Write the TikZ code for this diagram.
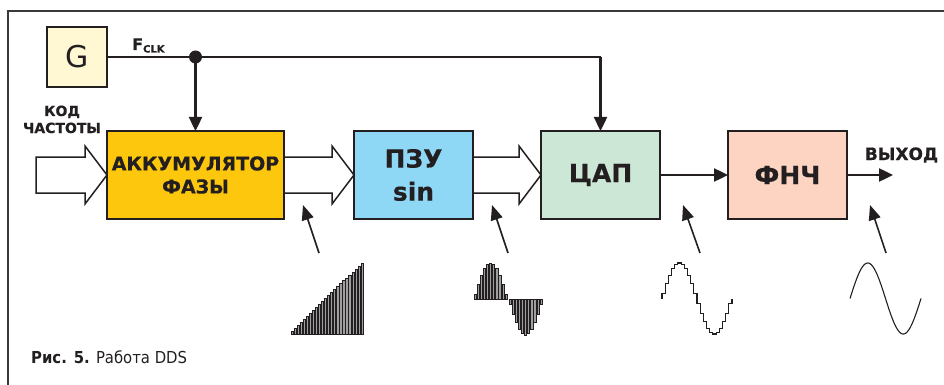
\documentclass[tikz,border=0pt]{standalone}
\usepackage{fontspec}
\setmainfont{DejaVu Sans}
\newfontfamily\heavyfont{DejaVu Sans}[BoldFeatures={FakeBold=0.5}]
\newfontfamily\capfont{DejaVu Sans Condensed}
\usetikzlibrary{arrows.meta,calc}
\definecolor{gfill}{HTML}{FFF8D2}
\definecolor{accfill}{HTML}{FCC70D}
\definecolor{romfill}{HTML}{8ED8F6}
\definecolor{dacfill}{HTML}{CDE7D6}
\definecolor{lpffill}{HTML}{FDD4C2}
\definecolor{ink}{HTML}{231F20}
\definecolor{framec}{HTML}{3A3A3A}
\tikzset{
 blockbox/.style={draw=ink, line width=2.6pt, inner sep=0pt, outer sep=0pt, minimum height=88pt, align=center, text=ink},
 fatarrow/.style={draw=ink, fill=white, line width=1.5pt, line join=miter},
 clkline/.style={draw=ink, line width=2.4pt},
 clkarrow/.style={clkline, -{Triangle[length=14pt,width=13pt]}},
 pointer/.style={draw=ink, line width=1.6pt, -{Triangle[length=15pt,width=12pt]}},
 lbl/.style={inner sep=0pt, text=ink},
 bar/.style={fill=gray!75, draw=ink, line width=0.5pt},
 wave/.style={draw=ink, line width=1.1pt, line join=miter}
}
\newcommand\fatarr[2]{%
 \draw[fatarrow] ($(#1)+(0,-18)$) -- ($(#2)+(-22,-18)$) -- ($(#2)+(-22,-29)$) -- (#2)
   -- ($(#2)+(-22,29)$) -- ($(#2)+(-22,18)$) -- ($(#1)+(0,18)$) -- cycle;}
\begin{document}
\begin{tikzpicture}[x=1pt,y=-1pt]
\useasboundingbox (0,0) rectangle (944,385);
% frame
\draw[framec, line width=1.4pt] (8,385) -- (8,11) -- (944,11);

% blocks
\node[blockbox, fill=gfill, minimum width=60pt, minimum height=60pt, font=\fontsize{30}{30}\selectfont] (G) at (77,57) {G};
\node[blockbox, fill=accfill, minimum width=177pt, font=\heavyfont\bfseries\fontsize{19}{23}\selectfont] (acc) at (195.5,175) {АККУМУЛЯТОР\\ФАЗЫ};
\node[blockbox, fill=romfill, minimum width=119pt, font=\heavyfont\bfseries\fontsize{25}{33}\selectfont] (rom) at (413.5,175) {ПЗУ\\sin};
\node[blockbox, fill=dacfill, minimum width=119pt, font=\heavyfont\bfseries\fontsize{25}{30}\selectfont] (dac) at (600.5,175) {ЦАП};
\node[blockbox, fill=lpffill, minimum width=119pt, font=\heavyfont\bfseries\fontsize{25}{30}\selectfont] (lpf) at (787.5,175) {ФНЧ};

% fat arrows
\coordinate (in) at (36,175);
\fatarr{in}{acc.west}
\fatarr{acc.east}{rom.west}
\fatarr{rom.east}{dac.west}
% redraw borders on top
\draw[ink, line width=2.6pt] (acc.north west) rectangle (acc.south east);
\draw[ink, line width=2.6pt] (rom.north west) rectangle (rom.south east);
\draw[ink, line width=2.6pt] (dac.north west) rectangle (dac.south east);

% clock
\coordinate (dot) at (acc.north |- G.east);
\coordinate (corner) at (dac.north |- G.east);
\draw[clkline] (G.east) -- (corner);
\draw[clkarrow] (corner) -- (dac.north);
\draw[clkarrow] (dot) -- (acc.north);
\fill[ink] (dot) circle (6.5pt);
\node[lbl, anchor=base west, font=\heavyfont\bfseries\fontsize{16}{16}\selectfont] (fclk) at (132,50) {F\raisebox{-2.5pt}{\fontsize{10}{10}\selectfont CLK}};

% signal chain
\coordinate (out) at (893,175);
\draw[clkarrow] (dac.east) -- (lpf.west);
\draw[clkarrow] (lpf.east) -- (out);

% labels
\node[lbl, anchor=base, font=\heavyfont\bfseries\fontsize{14}{14}\selectfont] (kod) at (62,116) {КОД};
\node[lbl, anchor=base, font=\heavyfont\bfseries\fontsize{14}{14}\selectfont] (chast) at (62,133) {ЧАСТОТЫ};
\node[lbl, anchor=base, font=\heavyfont\bfseries\fontsize{17}{17}\selectfont] (vyh) at (901.5,160) {ВЫХОД};

% pointers
\coordinate (p1a) at (319,253); \coordinate (p1b) at (303,205);
\coordinate (p2a) at (508,253); \coordinate (p2b) at (492,205);
\coordinate (p3a) at (700,253); \coordinate (p3b) at (683,205);
\coordinate (p4a) at (886,253); \coordinate (p4b) at (870,205);
\draw[pointer] (p1a) -- (p1b);
\draw[pointer] (p2a) -- (p2b);
\draw[pointer] (p3a) -- (p3b);
\draw[pointer] (p4a) -- (p4b);

% ramp (phase accumulator output)
\foreach \i in {0,...,23} {
  \pgfmathsetmacro\xx{292+\i*70/23}
  \pgfmathsetmacro\hh{3+\i*68/23}
  \draw[bar] (\xx-1.1,334) rectangle (\xx+1.1,334-\hh);
}
% sampled sine (ROM output)
\foreach \i in {0,...,10} {
  \pgfmathsetmacro\xx{475+\i*3.1}
  \pgfmathsetmacro\hh{36*sin(180*(\i+0.5)/11)}
  \draw[bar] (\xx-1.1,299) rectangle (\xx+1.1,299-\hh);
  \pgfmathsetmacro\xb{510+\i*3.1}
  \draw[bar] (\xb-1.1,299) rectangle (\xb+1.1,299+\hh);
}
% stepped sine (DAC output)
\draw[wave] (662,298.5) \foreach \i in {0,...,21} {
  -- ({662+\i*70/22},{298.5-35.5*sin(360*(\i+0.5)/22)})
  -- ({662+(\i+1)*70/22},{298.5-35.5*sin(360*(\i+0.5)/22)}) } -- (732,298.5);
% smooth sine (filter output)
\draw[wave] plot[domain=0:360, samples=90, smooth] ({850+71*(\x/360)},{298.5-35.5*sin(\x)});

% caption
\node[anchor=base west, inner sep=0pt, text=ink, font=\capfont\fontsize{16.5}{16.5}\selectfont] (cap) at (31,363) {\textbf{Рис. 5.} Работа DDS};
\end{tikzpicture}
\end{document}
